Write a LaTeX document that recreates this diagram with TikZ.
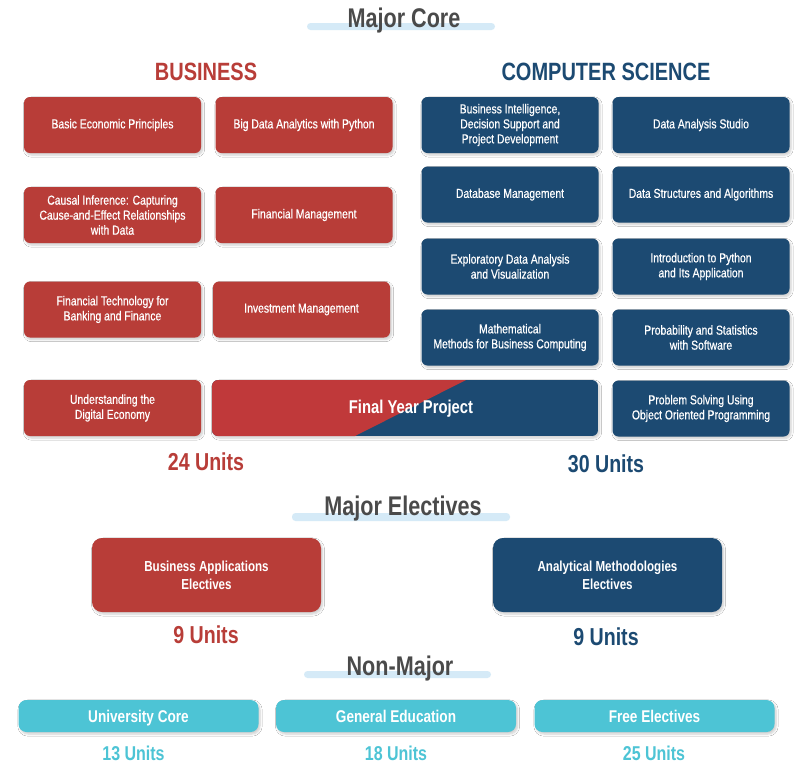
\documentclass[tikz,border=0pt]{standalone}
\usepackage{fontspec}
\setmainfont{Liberation Sans}[FakeStretch=0.8]
\newfontfamily\medfont{Liberation Sans}[FakeStretch=0.8, FakeBold=0.6]
\usetikzlibrary{shadows.blur}
\definecolor{bred}{HTML}{B83D38}
\definecolor{fred}{HTML}{C0393A}
\definecolor{csblue}{HTML}{1C4A72}
\definecolor{cyanbox}{HTML}{4DC4D5}
\definecolor{barblue}{HTML}{D5EAF7}
\definecolor{titlegrey}{HTML}{4A4A4A}
\tikzset{
  shad/.style={blur shadow={shadow xshift=1.5pt, shadow yshift=-2pt, shadow blur steps=6, shadow opacity=20}},
  course/.style={shad, rounded corners=6pt, minimum width=177pt, minimum height=56pt, inner sep=0pt,
    text=white, align=center, font=\medfont\fontsize{13}{15}\selectfont},
  busbox/.style={course, fill=bred},
  csbox/.style={course, fill=csblue},
  elect/.style={shad, rounded corners=10pt, minimum width=229pt, minimum height=74pt, inner sep=0pt,
    text=white, align=center, font=\fontsize{14.5}{18}\selectfont\bfseries},
  nonmaj/.style={shad, fill=cyanbox, rounded corners=8pt, minimum width=240pt, minimum height=32pt, inner sep=0pt,
    text height=12.5pt, text depth=0pt,
    text=white, font=\fontsize{17}{20}\selectfont\bfseries},
  sectitle/.style={anchor=base, text=titlegrey, font=\fontsize{27}{30}\selectfont\bfseries},
  colhead/.style={anchor=base, font=\fontsize{25}{28}\selectfont\bfseries},
  units/.style={anchor=base, font=\fontsize{24.5}{28}\selectfont\bfseries},
  smallunits/.style={anchor=base, text=cyanbox, font=\fontsize{20}{24}\selectfont\bfseries},
  titlebar/.style={fill=barblue, rounded corners=3.5pt}
}
\begin{document}
\begin{tikzpicture}[x=1pt,y=-1pt]
\useasboundingbox[fill=white] (0,0) rectangle (806,769);

% Major Core heading
\fill[titlebar] (307,23) rectangle (495,30);
\node[sectitle] (mc) at (404,27) {Major Core};

\node[colhead, text=bred] (bus) at (206,80) {BUSINESS};
\node[colhead, text=csblue] (cs) at (606,80) {COMPUTER SCIENCE};

% Business courses
\node[busbox] (b1) at (112.5,125) {Basic Economic Principles};
\node[busbox] (b2) at (304,125) {Big Data Analytics with Python};
\node[busbox] (b3) at (112.5,215) {Causal Inference: Capturing\\Cause-and-Effect Relationships\\with Data};
\node[busbox] (b4) at (304,215) {Financial Management};
\node[busbox] (b5) at (112.5,309.5) {Financial Technology for\\Banking and Finance};
\node[busbox] (b6) at (301.5,309.5) {Investment Management};
\node[busbox] (b7) at (112.5,408) {Understanding the\\Digital Economy};

% CS courses
\node[csbox] (c1) at (510,125) {Business Intelligence,\\Decision Support and\\Project Development};
\node[csbox] (c2) at (701,125) {Data Analysis Studio};
\node[csbox] (c3) at (510,194.5) {Database Management};
\node[csbox] (c4) at (701,194.5) {Data Structures and Algorithms};
\node[csbox] (c5) at (510,266.5) {Exploratory Data Analysis\\and Visualization};
\node[csbox] (c6) at (701,266.5) {Introduction to Python\\and Its Application};
\node[csbox] (c7) at (510,337.5) {Mathematical\\Methods for Business Computing};
\node[csbox] (c8) at (701,337.5) {Probability and Statistics\\with Software};
\node[csbox] (c9) at (701,408.5) {Problem Solving Using\\Object Oriented Programming};

% Final Year Project
\path[shad, fill=white, rounded corners=6pt] (212,380) rectangle (598,436);
\begin{scope}
  \clip[rounded corners=6pt] (212,380) rectangle (598,436);
  \fill[csblue] (212,380) rectangle (598,436);
  \fill[fred] (212,380) -- (466,380) -- (355,436) -- (212,436) -- cycle;
\end{scope}
\node[text=white, font=\fontsize{18.5}{20}\selectfont\bfseries] (fyp) at (411,409) {Final Year Project};

\node[units, text=bred] (u24) at (206,470) {24 Units};
\node[units, text=csblue] (u30) at (606,472) {30 Units};

% Major Electives
\fill[titlebar] (292,513) rectangle (510,521);
\node[sectitle] (me) at (403,515) {Major Electives};
\node[elect, fill=bred] (e1) at (206.5,575) {Business Applications\\Electives};
\node[elect, fill=csblue] (e2) at (607.5,575) {Analytical Methodologies\\Electives};
\node[units, text=bred] (u9a) at (206,643) {9 Units};
\node[units, text=csblue] (u9b) at (606,645) {9 Units};

% Non-Major
\fill[titlebar] (304,671) rectangle (491,678);
\node[sectitle] (nm) at (400,675) {Non-Major};
\node[nonmaj] (n1) at (138.5,716) {University Core};
\node[nonmaj] (n2) at (396,716) {General Education};
\node[nonmaj] (n3) at (654.5,716) {Free Electives};
\node[smallunits] (u13) at (133.5,760) {13 Units};
\node[smallunits] (u18) at (396,760) {18 Units};
\node[smallunits] (u25) at (654,760) {25 Units};
\end{tikzpicture}
\end{document}
